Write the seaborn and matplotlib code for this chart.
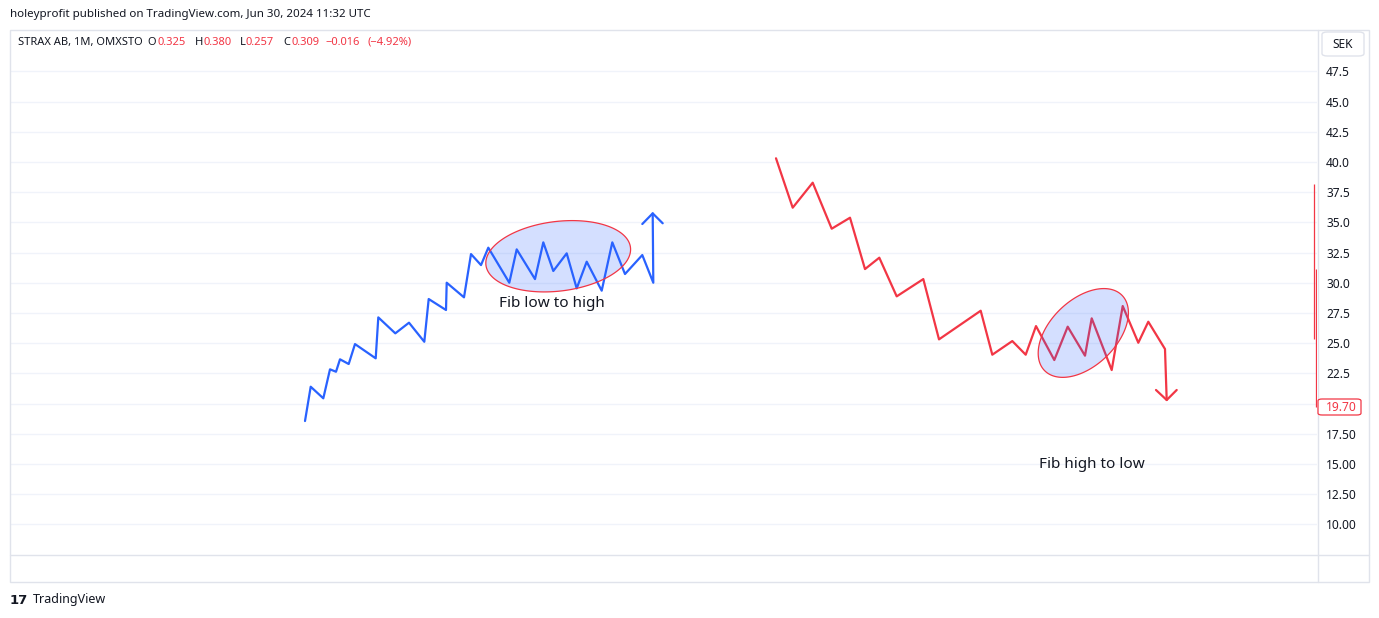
import matplotlib
matplotlib.use("Agg")
import numpy as np
import pandas as pd
import seaborn as sns
import matplotlib.pyplot as plt
from matplotlib.patches import Rectangle, FancyBboxPatch
from matplotlib.lines import Line2D

# ---------------- data ----------------
blue_t = [305, 310.7, 323.3, 330, 336, 340, 348.7, 355, 375.7, 378.3, 395.3, 409,
          424.3, 428.7, 446, 446.7, 464, 471, 481, 488.3, 509.3, 516.7, 535, 543.3,
          553.3, 566.7, 576.7, 586.7, 601.7, 612.3, 625, 642.3, 653.3, 652.7]
blue_v = [18.56, 21.40, 20.44, 22.84, 22.64, 23.67, 23.28, 24.93, 23.75, 27.14,
          25.82, 26.70, 25.12, 28.66, 27.75, 30.01, 28.80, 32.38, 31.47, 32.91,
          30.01, 32.77, 30.31, 33.35, 30.98, 32.44, 29.54, 31.75, 29.35, 33.35,
          30.73, 32.30, 30.01, 35.75]
blue_head_t = [642.3, 652.7, 662.7]
blue_head_v = [34.87, 35.75, 34.93]

red_t = [776, 792.7, 812.7, 831.7, 850, 865, 879.3, 896.7, 923.3, 939, 980.7,
         992.3, 1012.3, 1025.7, 1036, 1054.3, 1067.7, 1085, 1091.7, 1111.7,
         1122.7, 1138.3, 1148.3, 1165, 1166.7]
red_v = [40.31, 36.22, 38.29, 34.48, 35.39, 31.14, 32.08, 28.88, 30.31, 25.32,
         27.69, 24.05, 25.18, 24.05, 26.42, 23.61, 26.37, 23.97, 27.06, 22.78,
         28.08, 25.04, 26.78, 24.52, 20.30]
red_head_t = [1156, 1166.7, 1176.7]
red_head_v = [21.13, 20.30, 21.13]

wick_t = [1314.3, 1316.0]
wick_hi = [38.18, 31.14]
wick_lo = [25.35, 19.72]

last_price = 19.70
tick_values = [10.0, 12.5, 15.0, 17.5, 20.0, 22.5, 25.0, 27.5, 30.0, 32.5, 35.0,
               37.5, 40.0, 42.5, 45.0, 47.5]
tick_labels = ["10.00", "12.50", "15.00", "17.50", "", "22.5", "25.0", "27.5",
               "30.0", "32.5", "35.0", "37.5", "40.0", "42.5", "45.0", "47.5"]

header = "holeyprofit published on TradingView.com, Jun 30, 2024 11:32 UTC"
legend_parts = [("STRAX AB, 1M, OMXSTO", "d", 17.5), ("O", "d", 147), ("0.325", "r", 157),
                ("H", "d", 195), ("0.380", "r", 204), ("L", "d", 240), ("0.257", "r", 245),
                ("C", "d", 283), ("0.309", "r", 291), ("\u22120.016", "r", 325),
                ("(\u22124.92%)", "r", 367)]
notes = [("Fib low to high", 552, 28.33), ("Fib high to low", 1092, 15.0)]

# ---------------- style ----------------
sns.set_theme(style="white")
plt.rcParams["font.family"] = ["Noto Sans", "DejaVu Sans"]

DARK = "#131722"
RED = "#f23645"
BLUE = "#2962ff"
FRAME = "#e0e3eb"
GRID = "#f0f3fa"

W, H = 1379, 618
fig = plt.figure(figsize=(W / 100, H / 100), dpi=100)
fig.patch.set_facecolor("white")

def fx(x):
    return x / W

def fy(y):
    return 1 - y / H

L, R, T, B = 10, 1317, 30, 555
ax = fig.add_axes([fx(L), fy(B), fx(R - L), fy(T) - fy(B)])
ax.set_facecolor("white")
ax.set_xlim(L, R)
ax.set_ylim(7.47, 50.93)
for s in ax.spines.values():
    s.set_visible(False)

ax.set_yticks(tick_values)
ax.set_yticklabels(tick_labels)
ax.yaxis.tick_right()
ax.tick_params(axis="y", length=0, pad=6.5, labelsize=8.6, labelcolor=DARK)
ax.set_xticks([])
ax.grid(axis="y", color=GRID, linewidth=1)
ax.set_axisbelow(True)

# lines
df_blue = pd.DataFrame({"t": blue_t, "v": blue_v})
df_red = pd.DataFrame({"t": red_t, "v": red_v})
sns.lineplot(data=df_blue, x="t", y="v", ax=ax, color=BLUE, linewidth=1.6,
             sort=False, estimator=None)
sns.lineplot(data=pd.DataFrame({"t": blue_head_t, "v": blue_head_v}), x="t", y="v",
             ax=ax, color=BLUE, linewidth=1.6, sort=False, estimator=None)
sns.lineplot(data=df_red, x="t", y="v", ax=ax, color=RED, linewidth=1.6,
             sort=False, estimator=None)
sns.lineplot(data=pd.DataFrame({"t": red_head_t, "v": red_head_v}), x="t", y="v",
             ax=ax, color=RED, linewidth=1.6, sort=False, estimator=None)
ax.set_xlabel("")
ax.set_ylabel("")

# wicks at the right edge
for t, lo, hi in zip(wick_t, wick_lo, wick_hi):
    ax.vlines(t, lo, hi, color=RED, linewidth=0.9, zorder=8)

# ellipses (defined in pixel space, converted to data units)
fig.canvas.draw()
ppx = (ax.transData.transform((1, 0))[0] - ax.transData.transform((0, 0))[0])
ppy = (ax.transData.transform((0, 1))[1] - ax.transData.transform((0, 0))[1])

def ellipse(cx, cy, a, b, ang):
    th = np.linspace(0, 2 * np.pi, 300)
    ex, ey = a * np.cos(th), b * np.sin(th)
    r = np.deg2rad(ang)
    xr = ex * np.cos(r) - ey * np.sin(r)
    yr = ex * np.sin(r) + ey * np.cos(r)
    ax.fill(cx + xr / ppx, cy + yr / ppy, facecolor=(41 / 255, 98 / 255, 1, 0.2),
            edgecolor=RED, linewidth=0.9, zorder=5)

ellipse(558.2, 32.2, 72.8, 34.8, 7)
ellipse(1083.3, 25.85, 54, 33, 44)

for txt, x, y in notes:
    ax.text(x, y, txt, ha="center", va="center", fontsize=11, color=DARK, zorder=6)

# frame
fig.add_artist(Rectangle((fx(10), fy(582)), fx(1359), fy(30) - fy(582),
                         transform=fig.transFigure, fill=False, edgecolor=FRAME, linewidth=1.0))
fig.add_artist(Line2D([fx(1317.7), fx(1317.7)], [fy(30), fy(582)], transform=fig.transFigure,
                      color=FRAME, linewidth=1.0))
fig.add_artist(Line2D([fx(10), fx(1369)], [fy(555), fy(555)], transform=fig.transFigure,
                      color=FRAME, linewidth=1.0))
fig.add_artist(FancyBboxPatch((fx(1322), fy(56)), fx(42), fy(32) - fy(56),
                              boxstyle="round,pad=0,rounding_size=0.004",
                              transform=fig.transFigure, facecolor="white",
                              edgecolor=FRAME, linewidth=1.0))
fig.text(fx(1343), fy(44), "SEK", ha="center", va="center", fontsize=8.6, color=DARK)

# last price label
fig.add_artist(FancyBboxPatch((fx(1318), fy(415)), fx(43), fy(399) - fy(415),
                              boxstyle="round,pad=0,rounding_size=0.003",
                              transform=fig.transFigure, facecolor="white",
                              edgecolor=RED, linewidth=0.9, zorder=9))
y_lp = fig.transFigure.inverted().transform(ax.transData.transform((0, last_price)))[1]
fig.text(fx(1326), y_lp, "19.70", ha="left", va="center", fontsize=8.6, color=RED, zorder=10)

# header texts
fig.text(fx(10), fy(15), header, ha="left", va="center", fontsize=8.3, color=DARK)
for txt, c, x in legend_parts:
    fig.text(fx(x), fy(42.5), txt, ha="left", va="center", fontsize=8.0,
             color=DARK if c == "d" else RED)

# footer
fig.text(fx(10), fy(600), "17", ha="left", va="center", fontsize=9.5,
         fontweight="bold", family="DejaVu Sans", color=DARK)
fig.text(fx(33), fy(600), "TradingView", ha="left", va="center", fontsize=9, color=DARK)

fig.savefig("out.png", dpi=100)
